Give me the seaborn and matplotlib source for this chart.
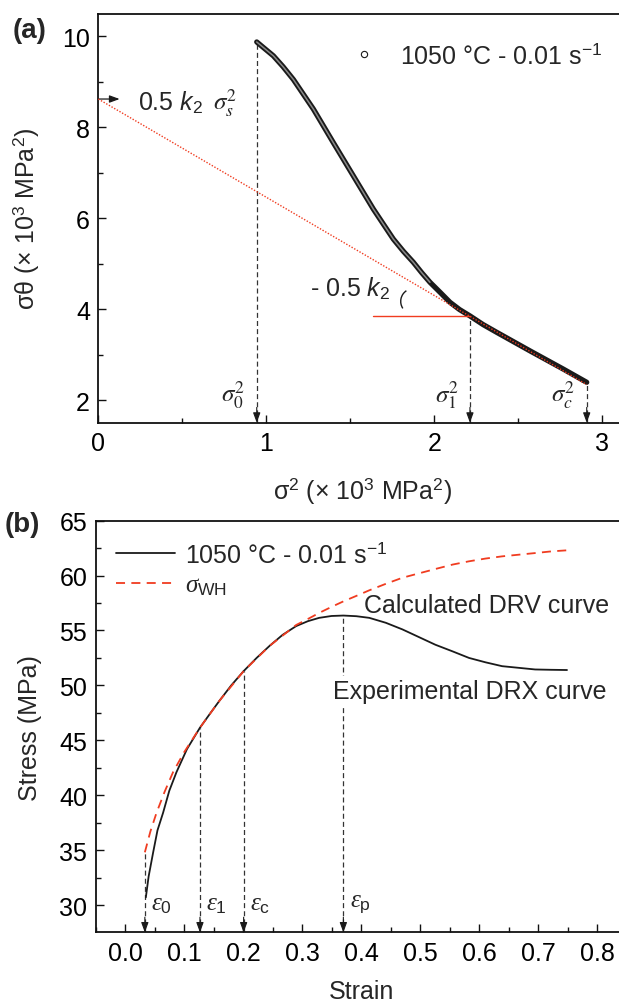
import matplotlib
matplotlib.use("Agg")
import matplotlib.pyplot as plt
from matplotlib.lines import Line2D
from matplotlib.patches import Arc
import pandas as pd
import seaborn as sns

# ---- (a) sigma*theta vs sigma^2 (x 10^3) ----
sig2 = [0.943, 0.990, 1.042, 1.100, 1.161, 1.280, 1.399, 1.518, 1.637, 1.700,
        1.756, 1.816, 1.875, 1.925, 1.974, 2.034, 2.093, 2.150, 2.212, 2.290,
        2.371, 2.570, 2.768, 2.907]
sig_theta = [9.875, 9.73, 9.57, 9.33, 9.05, 8.40, 7.66, 6.93, 6.20, 5.85,
             5.54, 5.27, 5.03, 4.80, 4.59, 4.37, 4.15, 3.99, 3.85, 3.66,
             3.49, 3.08, 2.68, 2.39]
tangent_x = [0.0, 2.907]
tangent_y = [8.62, 2.34]
horiz_x = [1.635, 2.212]
horiz_y = 3.85
mark_x = [0.943, 2.212, 2.907]
mark_top = [9.875, 3.85, 2.39]
mark_lab = ["0", "1", "c"]

# ---- (b) stress-strain ----
strain_exp = [0.0353, 0.040, 0.0477, 0.055, 0.0645, 0.075, 0.0872, 0.105, 0.127,
              0.145, 0.160, 0.180, 0.201, 0.223, 0.245, 0.267, 0.290, 0.310,
              0.329, 0.350, 0.370, 0.392, 0.414, 0.442, 0.470, 0.498, 0.526,
              0.555, 0.583, 0.611, 0.639, 0.667, 0.695, 0.722, 0.749]
stress_exp = [30.7, 32.6, 34.8, 36.8, 38.4, 40.4, 42.1, 44.2, 46.15,
              47.5, 48.6, 50.0, 51.3, 52.5, 53.6, 54.6, 55.4, 55.85,
              56.15, 56.32, 56.36, 56.3, 56.15, 55.7, 55.1, 54.4, 53.7,
              53.1, 52.5, 52.1, 51.75, 51.6, 51.45, 51.42, 51.4]
strain_wh = [0.0336, 0.043, 0.0534, 0.067, 0.0814, 0.100, 0.127, 0.160, 0.201,
             0.245, 0.290, 0.310, 0.329, 0.350, 0.370, 0.392, 0.414, 0.442,
             0.470, 0.498, 0.526, 0.555, 0.583, 0.611, 0.639, 0.667, 0.695,
             0.722, 0.749]
stress_wh = [34.8, 36.7, 38.4, 40.3, 42.1, 43.9, 46.15, 48.6, 51.3,
             53.6, 55.5, 56.05, 56.6, 57.15, 57.65, 58.15, 58.66, 59.25,
             59.8, 60.2, 60.6, 61.0, 61.3, 61.55, 61.75, 61.9, 62.05,
             62.2, 62.3]
eps_x = [0.0336, 0.127, 0.201, 0.370]
eps_top = [34.8, 46.15, 51.3, 56.36]
eps_lab = ["0", "1", "c", "p"]

RED = "#f03c20"
DASH = "#333333"

sns.set_theme(style="ticks")
plt.rcParams["font.family"] = ["Liberation Sans", "DejaVu Sans"]
plt.rcParams["mathtext.fontset"] = "custom"
plt.rcParams["mathtext.rm"] = "Liberation Sans"
plt.rcParams["mathtext.it"] = "Liberation Serif:italic"
plt.rcParams["mathtext.sf"] = "Liberation Sans:italic"
plt.rcParams["mathtext.bf"] = "Liberation Sans:bold"
plt.rcParams["axes.linewidth"] = 1.3
plt.rcParams["axes.edgecolor"] = "#111111"

FS = 18

fig = plt.figure(figsize=(6.19, 10.03), dpi=100)
ax1 = fig.add_axes([0.1588, 0.5775, 0.855, 0.408])
ax2 = fig.add_axes([0.1543, 0.0693, 0.858, 0.4106])


def arrow_down(ax, x, y):
    ax.annotate("", xy=(x, y), xytext=(0, 11), textcoords="offset points",
                annotation_clip=False,
                arrowprops=dict(arrowstyle="-|>,head_length=0.6,head_width=0.22",
                                color="k", lw=0.8, shrinkA=0, shrinkB=0,
                                mutation_scale=10))


def style_axes(ax):
    ax.tick_params(which="both", direction="in", top=False, right=False,
                   labelsize=FS, width=1.0, color="#111111", labelcolor="black", pad=6)
    ax.tick_params(which="major", length=6)
    ax.tick_params(which="minor", length=3.6)


# ---------------- panel (a) ----------------
df_a = pd.DataFrame({"s2": sig2, "st": sig_theta})
ylo_a = 1.5
ax1.vlines(mark_x, ylo_a, mark_top, colors=DASH, linestyles=(0, (4, 2.5)), lw=0.9, zorder=1)
sns.lineplot(data=df_a, x="s2", y="st", ax=ax1, color="k", lw=3.8, sort=False,
             legend=False, zorder=3, solid_capstyle="round")
sns.lineplot(data=df_a[df_a["s2"] < 2.0], x="s2", y="st", ax=ax1, color="#8a8a8a",
             lw=1.1, sort=False, legend=False, zorder=4)
ax1.plot(tangent_x, tangent_y, ls=(0, (1, 1.2)), color=RED, lw=1.0, zorder=5)
ax1.plot(horiz_x, [horiz_y, horiz_y], color=RED, lw=1.0, zorder=5)
ax1.add_patch(Arc((1.875, 4.17), 0.15, 0.56, theta1=100, theta2=248, color="k", lw=1.0))

for x in mark_x:
    arrow_down(ax1, x, ylo_a)
for x, lab in zip(mark_x, mark_lab):
    ax1.text(x - 0.065, 2.13, r"$\sigma_{%s}^{2}$" % lab, fontsize=FS, ha="right",
             va="center", math_fontfamily="stix")

ax1.annotate("", xy=(0.127, tangent_y[0]), xytext=(0.0, tangent_y[0]), annotation_clip=False,
             arrowprops=dict(arrowstyle="-|>,head_length=0.6,head_width=0.22", color="k",
                             lw=0.9, shrinkA=0, shrinkB=0, mutation_scale=10))
ax1.text(0.237, 8.40, r"0.5 $\mathsf{k}_{2}$", fontsize=FS, va="baseline")
ax1.text(0.684, 8.40, r"$\sigma_{s}^{2}$", fontsize=FS, va="baseline", math_fontfamily="stix")
ax1.text(1.258, 4.31, r"- 0.5 $\mathsf{k}_{2}$", fontsize=FS, va="baseline")

ax1.set_xlim(0, 3.15)
ax1.set_ylim(ylo_a, 10.5)
ax1.set_xticks([0, 1, 2, 3])
ax1.set_xticks([0.5, 1.5, 2.5], minor=True)
ax1.set_yticks([2, 4, 6, 8, 10])
ax1.set_yticks([3, 5, 7, 9], minor=True)
ax1.set_xlabel(r"σ$^2$ (× 10$^3$ MPa$^2$)", fontsize=FS)
ax1.set_ylabel(r"σθ (× 10$^3$ MPa$^2$)", fontsize=FS)
ax1.xaxis.set_label_coords(0.5, -0.128)
ax1.yaxis.set_label_coords(-0.108, 0.5)
style_axes(ax1)

h_a = Line2D([], [], marker="o", ls="none", mfc="none", mec="k", ms=4.5, mew=0.8)
ax1.legend([h_a], [r"1050 °C - 0.01 s$^{-1}$"], loc="upper left",
           bbox_to_anchor=(0.478, 0.928), frameon=False, fontsize=FS,
           borderpad=0, borderaxespad=0, handlelength=1.0, handletextpad=0.96)

# ---------------- panel (b) ----------------
df_exp = pd.DataFrame({"strain": strain_exp, "stress": stress_exp})
df_wh = pd.DataFrame({"strain": strain_wh, "stress": stress_wh})
ylo_b = 27.5
ax2.vlines(eps_x, ylo_b, eps_top, colors=DASH, linestyles=(0, (4, 2.5)), lw=0.9, zorder=1)
sns.lineplot(data=df_exp, x="strain", y="stress", ax=ax2, color="k", lw=1.3,
             sort=False, legend=False, zorder=4)
sns.lineplot(data=df_wh, x="strain", y="stress", ax=ax2, color=RED, lw=1.3,
             sort=False, legend=False, zorder=5)
ax2.lines[-1].set_dashes((5, 3.5))

for x in eps_x:
    arrow_down(ax2, x, ylo_b)
for x, lab in zip(eps_x, eps_lab):
    ax2.text(x + 0.0105, 30.2, r"$\varepsilon_{\mathrm{%s}}$" % lab, fontsize=FS,
             ha="left", va="center")

ax2.text(0.405, 57.3, "Calculated DRV curve", fontsize=FS, va="center")
ax2.text(0.352, 49.5, "Experimental DRX curve", fontsize=FS, va="center", zorder=3,
         bbox=dict(boxstyle="square,pad=0.12", fc="white", ec="none"))

ax2.set_xlim(-0.05, 0.85)
ax2.set_ylim(ylo_b, 65)
ax2.set_xticks([0.0, 0.1, 0.2, 0.3, 0.4, 0.5, 0.6, 0.7, 0.8])
ax2.set_xticklabels(["0.0", "0.1", "0.2", "0.3", "0.4", "0.5", "0.6", "0.7", "0.8"])
ax2.set_xticks([-0.05, 0.05, 0.15, 0.25, 0.35, 0.45, 0.55, 0.65, 0.75, 0.85], minor=True)
ax2.set_yticks([30, 35, 40, 45, 50, 55, 60, 65])
ax2.set_yticks([32.5, 37.5, 42.5, 47.5, 52.5, 57.5, 62.5], minor=True)
ax2.set_xlabel("Strain", fontsize=FS)
ax2.set_ylabel("Stress (MPa)", fontsize=FS)
ax2.xaxis.set_label_coords(0.5, -0.112)
ax2.yaxis.set_label_coords(-0.1, 0.5)
style_axes(ax2)

h1 = Line2D([], [], color="k", lw=1.3)
h2 = Line2D([], [], color=RED, lw=1.3, dashes=(5, 3.5))
ax2.legend([h1, h2], [r"1050 °C - 0.01 s$^{-1}$", r"$\sigma_{\mathrm{WH}}$"],
           loc="upper left", bbox_to_anchor=(0.0386, 0.948), frameon=False,
           fontsize=FS, borderpad=0, borderaxespad=0, handlelength=2.36,
           handletextpad=0.4, labelspacing=0.22)

for ax in (ax1, ax2):
    sns.despine(ax=ax, top=False, right=False)

fig.text(0.021, 0.969, "(a)", fontsize=20, fontweight="bold", va="center")
fig.text(0.008, 0.477, "(b)", fontsize=20, fontweight="bold", va="center")

fig.savefig("out.png", dpi=100)
